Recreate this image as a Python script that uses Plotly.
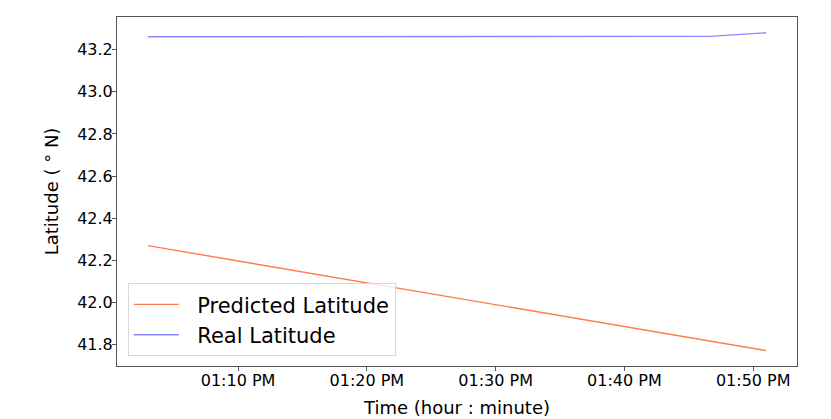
import plotly.graph_objects as go

# Data
pred_time = ["2024-01-01 13:03:00", "2024-01-01 13:15:00", "2024-01-01 13:27:00",
             "2024-01-01 13:39:00", "2024-01-01 13:51:00"]
pred_lat = [42.269, 42.144, 42.019, 41.895, 41.770]

real_time = ["2024-01-01 13:03:00", "2024-01-01 13:15:00", "2024-01-01 13:30:00",
             "2024-01-01 13:44:00", "2024-01-01 13:46:40", "2024-01-01 13:48:25",
             "2024-01-01 13:50:00", "2024-01-01 13:51:00"]
real_lat = [43.262, 43.262, 43.262, 43.262, 43.264, 43.271, 43.277, 43.281]

tick_vals = ["2024-01-01 13:10:00", "2024-01-01 13:20:00", "2024-01-01 13:30:00",
             "2024-01-01 13:40:00", "2024-01-01 13:50:00"]
tick_text = ["01:10 PM", "01:20 PM", "01:30 PM", "01:40 PM", "01:50 PM"]

y_tick_vals = [41.8, 42.0, 42.2, 42.4, 42.6, 42.8, 43.0, 43.2]
y_tick_text = ["41.8", "42.0", "42.2", "42.4", "42.6", "42.8", "43.0", "43.2"]

fig = go.Figure()
fig.add_trace(go.Scatter(x=pred_time, y=pred_lat, mode="lines",
                         name="\u00a0\u00a0Predicted Latitude",
                         line=dict(color="rgba(255,80,20,0.75)", width=1.4)))
fig.add_trace(go.Scatter(x=real_time, y=real_lat, mode="lines",
                         name="\u00a0\u00a0Real Latitude",
                         line=dict(color="rgba(40,40,255,0.55)", width=1.4)))

font_family = "DejaVu Sans"
fig.update_layout(
    width=831, height=419,
    margin=dict(l=117, r=34, t=17, b=53, autoexpand=False),
    paper_bgcolor="white", plot_bgcolor="white",
    font=dict(family=font_family, color="black", size=16),
    showlegend=True,
    legend=dict(x=0.016, y=0.028, xanchor="left", yanchor="bottom",
                bgcolor="rgba(255,255,255,0.8)", bordercolor="#d8d8d8", borderwidth=1,
                itemwidth=45, tracegroupgap=0,
                font=dict(size=21, family=font_family)),
    xaxis=dict(
        range=["2024-01-01 13:00:36", "2024-01-01 13:53:24"],
        tickvals=tick_vals, ticktext=tick_text,
        ticks="outside", ticklen=4, tickcolor="#555",
        ticklabelstandoff=-4,
        showgrid=False, zeroline=False, automargin=False,
        showline=True, linecolor="#555", linewidth=1, mirror=True,
        tickfont=dict(size=16),
        title=dict(text="Time (hour : minute)", font=dict(size=18), standoff=12),
    ),
    yaxis=dict(
        range=[41.697, 43.356],
        tickvals=y_tick_vals, ticktext=y_tick_text,
        ticks="outside", ticklen=4, tickcolor="#555",
        ticklabelstandoff=-4,
        showgrid=False, zeroline=False, automargin=False,
        showline=True, linecolor="#555", linewidth=1, mirror=True,
        tickfont=dict(size=16),
        title=dict(text="Latitude ( ° N)", font=dict(size=18), standoff=13),
    ),
)

fig.write_html("out.html", config={"displayModeBar": False},
               post_script="document.body.style.margin='0';document.body.style.overflow='hidden';")
